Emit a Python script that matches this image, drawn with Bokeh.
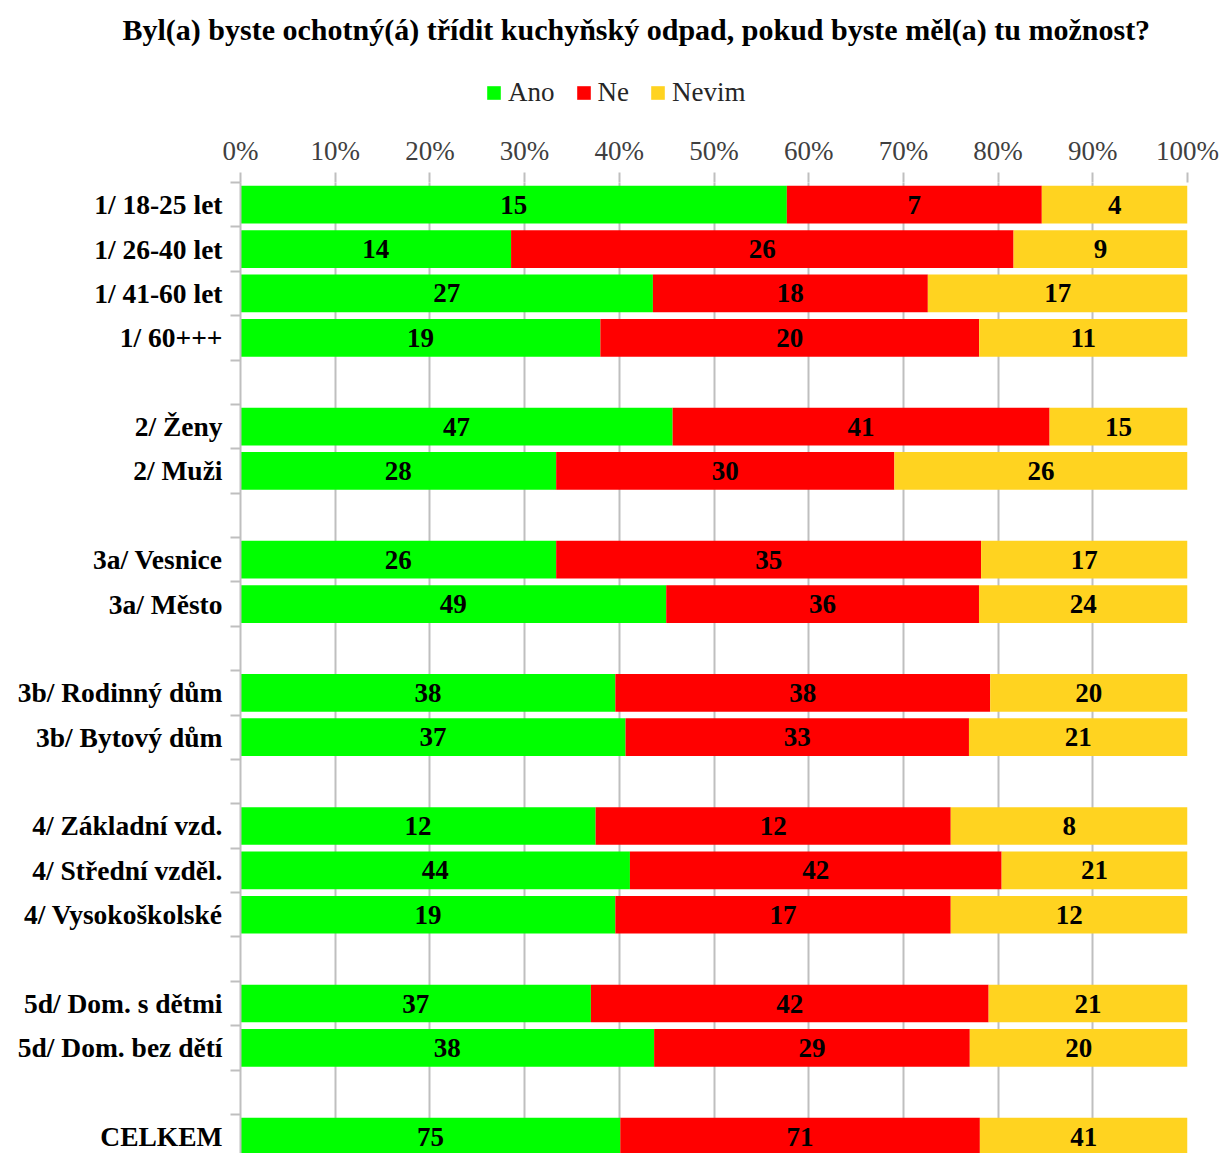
from bokeh.plotting import figure
from bokeh.layouts import column
from bokeh.models import (Range1d, FixedTicker, NumeralTickFormatter, ColumnDataSource,
                          Legend, LegendItem, Spacer)
from bokeh.core.properties import value
from bokeh.embed import file_html
from bokeh.resources import INLINE

categories = ["1/ 18-25 let", "1/ 26-40 let", "1/ 41-60 let", "1/ 60+++", "",
              "2/ Ženy", "2/ Muži", "",
              "3a/ Vesnice", "3a/ Město", "",
              "3b/ Rodinný dům", "3b/ Bytový dům", "",
              "4/ Základní vzd.", "4/ Střední vzděl.", "4/ Vysokoškolské", "",
              "5d/ Dom. s dětmi", "5d/ Dom. bez dětí", "",
              "CELKEM"]
ano =   [15, 14, 27, 19, None, 47, 28, None, 26, 49, None, 38, 37, None, 12, 44, 19, None, 37, 38, None, 75]
ne =    [7, 26, 18, 20, None, 41, 30, None, 35, 36, None, 38, 33, None, 12, 42, 17, None, 42, 29, None, 71]
nevim = [4, 9, 17, 11, None, 15, 26, None, 17, 24, None, 20, 21, None, 8, 21, 12, None, 21, 20, None, 41]
series_names = ["Ano", "Ne", "Nevim"]
colors = ["#00FF00", "#FF0000", "#FFD320"]
x_ticks = [0, 0.1, 0.2, 0.3, 0.4, 0.5, 0.6, 0.7, 0.8, 0.9, 1.0]
title_text = "Byl(a) byste ochotný(á) třídit kuchyňský odpad, pokud byste měl(a) tu možnost?"

FONT = "Liberation Serif"
W = 1223
PAD_TOP = 8
TOP_H = 110 - PAD_TOP
LEFT = 240
RIGHT = 36

rows = [i for i, c in enumerate(categories) if c]
data = {"y": [], "Ano": [], "Ne": [], "Nevim": []}
lab_x, lab_y, lab_t = [], [], []
for i in rows:
    vals = [ano[i], ne[i], nevim[i]]
    tot = sum(vals)
    data["y"].append(i)
    cum = 0.0
    for name, v in zip(series_names, vals):
        f = v / tot
        data[name].append(f)
        lab_x.append(cum + f / 2)
        lab_y.append(i)
        lab_t.append(str(v))
        cum += f
src = ColumnDataSource(data)

# ---- header figure: title + legend (legend proxies lie outside its visible range) ----
h = figure(width=W, height=TOP_H, output_backend="svg", toolbar_location=None,
           x_range=Range1d(0, 1), y_range=Range1d(100, 101),
           x_axis_location=None, y_axis_location=None,
           min_border_left=LEFT, min_border_right=RIGHT, min_border_top=0, min_border_bottom=0)
h.outline_line_color = None
h.xgrid.visible = False
h.ygrid.visible = False
h.title.text = title_text
h.title.align = "left"
h.title.offset = 122 - LEFT
h.title.standoff = 4
h.title.text_font = FONT
h.title.text_font_style = "bold"
h.title.text_font_size = "30px"
h.title.text_color = "black"

leg_r = [h.hbar(y="y", right=nm, height=0.85, source=src, fill_color=c, line_color=None)
         for nm, c in zip(series_names, colors)]
lg = Legend(items=[LegendItem(label=nm, renderers=[r]) for nm, r in zip(series_names, leg_r)])
lg.orientation = "horizontal"
lg.location = (485 - LEFT, 2)
lg.border_line_color = None
lg.background_fill_alpha = 0
lg.padding = 0
lg.margin = 0
lg.spacing = 20
lg.glyph_width = 17
lg.glyph_height = 17
lg.label_standoff = 6
lg.label_text_font = FONT
lg.label_text_font_size = "27px"
lg.label_text_color = "#262626"
lg.label_height = 27
lg.label_text_baseline = "middle"
h.add_layout(lg)

# ---- main chart ----
n = len(categories)
p = figure(width=W, height=1153 - 110, output_backend="svg", toolbar_location=None,
           x_range=Range1d(0, 1), y_range=Range1d(21.38, -0.5),
           x_axis_location="above", min_border_left=LEFT, min_border_right=RIGHT,
           min_border_top=182 - 110, min_border_bottom=0)
p.outline_line_color = None
p.background_fill_color = "white"

renderers = p.hbar_stack(series_names, y="y", height=0.85, color=colors, source=src,
                         line_color=None)

p.text(x=lab_x, y=lab_y, text=lab_t, text_align="center", text_baseline="middle",
       text_font=value(FONT), text_font_style="bold", text_font_size="27px", text_color="black")

xa = p.xaxis[0]
xa.ticker = FixedTicker(ticks=x_ticks)
xa.formatter = NumeralTickFormatter(format="0%")
xa.axis_line_color = None
xa.major_tick_line_color = "#BFBFBF"
xa.major_tick_line_width = 2
xa.major_tick_out = 10
xa.major_tick_in = 0
xa.minor_tick_line_color = None
xa.major_label_standoff = 7
xa.major_label_text_font = FONT
xa.major_label_text_font_size = "27px"
xa.major_label_text_color = "#404040"

ya = p.yaxis[0]
ya.ticker = FixedTicker(ticks=rows, minor_ticks=[i + 0.5 for i in range(-1, n)])
ya.major_label_overrides = {i: categories[i] for i in rows}
ya.axis_line_color = "#BFBFBF"
ya.axis_line_width = 2
ya.major_tick_line_color = None
ya.major_tick_out = 0
ya.major_tick_in = 0
ya.minor_tick_line_color = "#BFBFBF"
ya.minor_tick_line_width = 2
ya.minor_tick_out = 10
ya.minor_tick_in = 0
ya.major_label_standoff = 8
ya.major_label_text_font = FONT
ya.major_label_text_font_style = "bold"
ya.major_label_text_font_size = "27.5px"
ya.major_label_text_color = "black"

p.xgrid.ticker = FixedTicker(ticks=x_ticks)
p.xgrid.grid_line_color = "#BFBFBF"
p.xgrid.grid_line_width = 2
p.ygrid.grid_line_color = None

layout = column(Spacer(width=W, height=PAD_TOP), h, p, spacing=0)
open("out.html", "w").write(file_html(layout, INLINE))
